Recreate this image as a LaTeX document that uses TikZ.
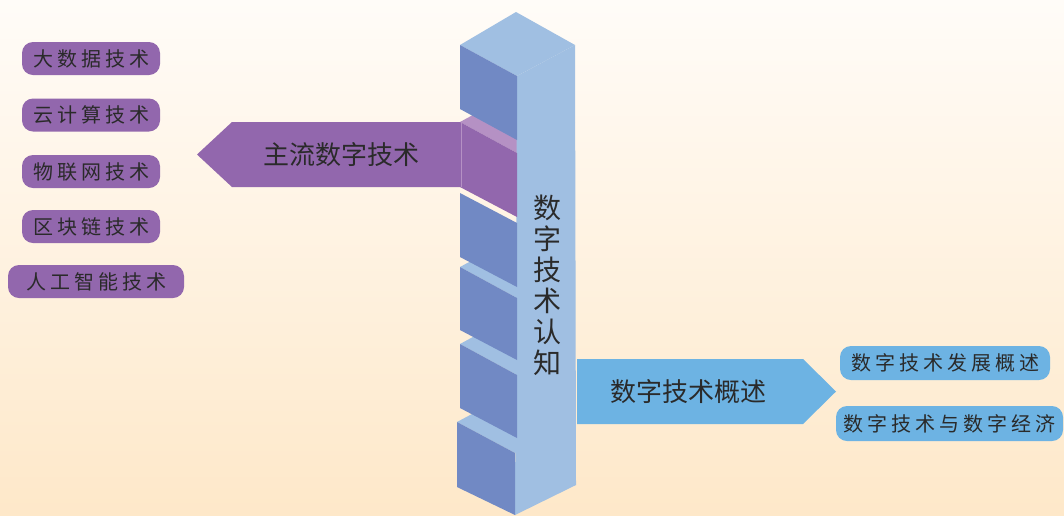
\documentclass[tikz,border=0pt]{standalone}
\usepackage{fontspec}
\newfontfamily\cjk{Noto Sans CJK SC}
\definecolor{bgtop}{HTML}{FFFCF8}
\definecolor{bgbot}{HTML}{FEE8C9}
\definecolor{darkblue}{HTML}{7189C4}
\definecolor{lightblue}{HTML}{A0BFE2}
\definecolor{purp}{HTML}{9267AD}
\definecolor{lightpurp}{HTML}{B591C4}
\definecolor{arrowblue}{HTML}{6DB3E3}
\definecolor{txt}{HTML}{2A2A2A}
\newcommand\kk{\kern4pt}
\begin{document}
\begin{tikzpicture}[x=1pt,y=-1pt,
  pill/.style={fill=#1, rounded corners=11pt, inner sep=0pt, minimum height=33pt,
    font=\cjk\fontsize{20}{22}\selectfont, text=txt},
  bigtext/.style={font=\cjk\fontsize{26}{28}\selectfont, text=txt, inner sep=0pt}]
\useasboundingbox (0,0) rectangle (1064,515);
\shade[top color=bgtop, bottom color=bgbot] (0,0) rectangle (1064,515);

% top faces of lower blocks (visible strips)
\fill[lightpurp] (460,122) -- (517,91) -- (575,122) -- (517,153) -- cycle;
\fill[lightblue] (460,267) -- (517,236) -- (575,267) -- (517,298) -- cycle;
\fill[lightblue] (460,344) -- (517,313) -- (575,344) -- (517,375) -- cycle;
\fill[lightblue] (457,422) -- (515,391) -- (573,422) -- (515,453) -- cycle;

% right face of the column
\fill[lightblue] (517,76) -- (575,45) -- (576,485) -- (515,515) -- cycle;
% top face
\fill[lightblue] (516,12) -- (575,45) -- (517,76) -- (460,45) -- cycle;

% left faces of the blocks
\fill[darkblue] (460,45) -- (517,76) -- (517,140) -- (460,109) -- cycle;
\fill[purp] (460,122) -- (517,153) -- (517,217) -- (460,187) -- cycle;
\fill[darkblue] (460,193) -- (517,223) -- (517,287) -- (460,257) -- cycle;
\fill[darkblue] (460,267) -- (517,298) -- (517,360) -- (460,330) -- cycle;
\fill[darkblue] (460,344) -- (517,375) -- (517,438) -- (460,408) -- cycle;
\fill[darkblue] (457,422) -- (515,453) -- (515,515) -- (457,487) -- cycle;

% purple arrow
\fill[purp] (197,154.5) -- (232,122) -- (460,122) -- (460,187) -- (232,187) -- cycle;
\draw[lightpurp, line width=0.8pt] (461,122) -- (461,187);
\node[bigtext] (main) at (341,154.5) {主流数字技术};

% blue arrow
\fill[arrowblue] (577,359) -- (803,359) -- (836,391.5) -- (803,424) -- (577,424) -- cycle;
\node[bigtext] (over) at (688,392) {数字技术概述};

% column title
\node[font=\cjk\fontsize{28}{31}\selectfont, text=txt, align=center, inner sep=0pt]
  (title) at (547,285) {数\\字\\技\\术\\认\\知};

% left pills
\node[pill=purp, minimum width=138pt] (p1) at (91,58.5) {大\kk{}数\kk{}据\kk{}技\kk{}术};
\node[pill=purp, minimum width=138pt] (p2) at (91,115) {云\kk{}计\kk{}算\kk{}技\kk{}术};
\node[pill=purp, minimum width=138pt] (p3) at (91,171.5) {物\kk{}联\kk{}网\kk{}技\kk{}术};
\node[pill=purp, minimum width=138pt] (p4) at (91,226.5) {区\kk{}块\kk{}链\kk{}技\kk{}术};
\node[pill=purp, minimum width=176pt] (p5) at (96,281.5) {人\kk{}工\kk{}智\kk{}能\kk{}技\kk{}术};

% right pills
\node[pill=arrowblue, minimum width=210pt, minimum height=34pt] (r1) at (945,363)
  {数\kk{}字\kk{}技\kk{}术\kk{}发\kk{}展\kk{}概\kk{}述};
\node[pill=arrowblue, minimum width=227pt, minimum height=35pt] (r2) at (949.5,423.5)
  {数\kk{}字\kk{}技\kk{}术\kk{}与\kk{}数\kk{}字\kk{}经\kk{}济};
\end{tikzpicture}
\end{document}
